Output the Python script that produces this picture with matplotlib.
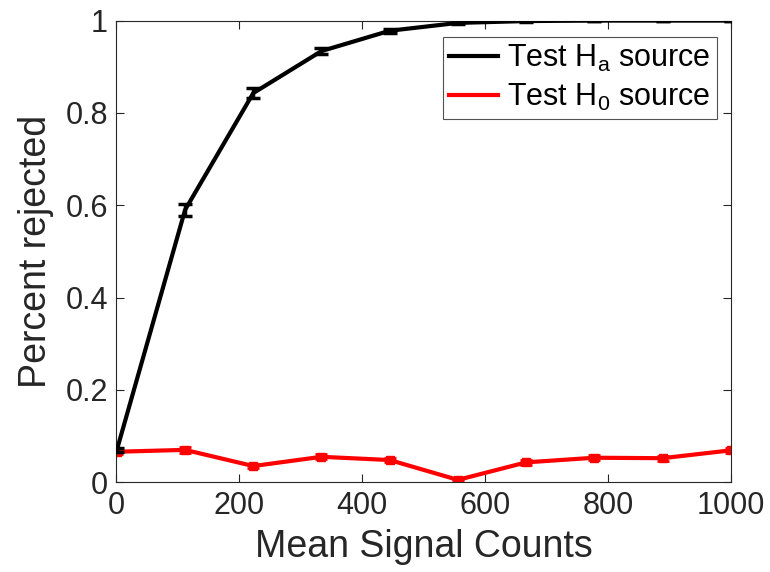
import matplotlib
matplotlib.use('Agg')
import matplotlib.pyplot as plt
from matplotlib.lines import Line2D

# data
counts = [1, 112, 223, 334, 445, 556, 667, 778, 889, 1000]
rej_ha = [0.07, 0.590, 0.843, 0.934, 0.978, 0.995, 0.999, 1.0, 1.0, 1.0]
err_ha = [0.004, 0.013, 0.010, 0.007, 0.004, 0.002, 0.001, 0.0, 0.0, 0.0]
rej_h0 = [0.066, 0.070, 0.035, 0.055, 0.048, 0.005, 0.043, 0.053, 0.052, 0.069]
err_h0 = [0.006, 0.006, 0.004, 0.005, 0.005, 0.002, 0.005, 0.005, 0.005, 0.006]

plt.rcParams['font.family'] = ['Liberation Sans', 'DejaVu Sans']
plt.rcParams['mathtext.fontset'] = 'custom'
plt.rcParams['mathtext.rm'] = 'Liberation Sans'

fig = plt.figure(figsize=(7.7, 5.72), dpi=100)
ax = fig.add_axes([0.151, 0.157, 0.798, 0.807])

ax.errorbar(counts, rej_ha, yerr=err_ha, color='black', lw=3, capsize=5, capthick=2.5,
            elinewidth=2.5, zorder=3)
ax.errorbar(counts, rej_h0, yerr=err_h0, color='red', lw=3, marker='s', ms=6,
            capsize=4, capthick=2, elinewidth=2, zorder=2)

ax.set_xlim(0, 1000)
ax.set_ylim(0, 1)
ax.set_xticks([0, 200, 400, 600, 800, 1000])
ax.set_yticks([0, 0.2, 0.4, 0.6, 0.8, 1])
ax.set_yticklabels(['0', '0.2', '0.4', '0.6', '0.8', '1'])
ax.tick_params(direction='in', top=True, right=True, labelsize=22, colors='#262626',
               length=6, width=0.8, pad=6)
for s in ax.spines.values():
    s.set_color('#262626')
    s.set_linewidth(0.8)

ax.set_xlabel('Mean Signal Counts', fontsize=27, color='#262626', labelpad=6)
ax.set_ylabel('Percent rejected', fontsize=27, color='#262626', labelpad=8)

handles = [Line2D([], [], color='black', lw=3), Line2D([], [], color='red', lw=3)]
labels = [r'Test H$_\mathregular{a}$ source', r'Test H$_\mathregular{0}$ source']
leg = ax.legend(handles, labels, loc='upper right', fontsize=22, fancybox=False,
                handlelength=1.6, handletextpad=0.3, borderpad=0.2, labelspacing=0.25,
                borderaxespad=0, bbox_to_anchor=(0.977, 0.965))
leg.get_frame().set_edgecolor('#262626')
leg.get_frame().set_linewidth(0.8)

fig.savefig('out.png', dpi=100)
